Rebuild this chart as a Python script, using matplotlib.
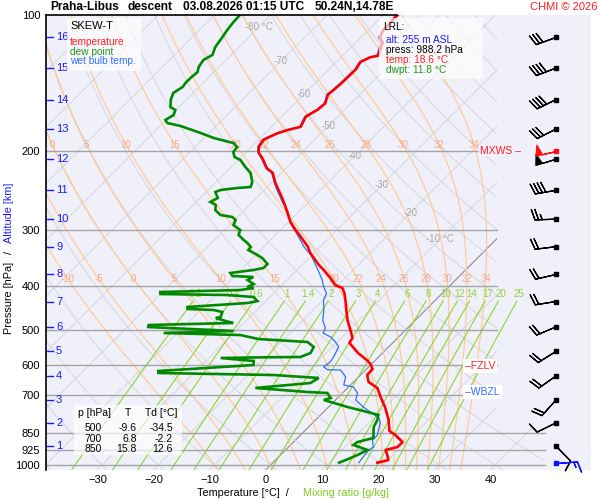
import numpy as np
import matplotlib
matplotlib.use('Agg')
import matplotlib.pyplot as plt
from matplotlib.patches import Rectangle, Polygon

plt.rcParams['font.family'] = ['Liberation Sans', 'DejaVu Sans']

# ======================
# SOUNDING DATA
# ======================
temp_p = [988.2, 975, 950, 926, 912, 889, 858, 840, 794, 747, 706, 674, 654, 631, 612, 596, 587, 564,
          535, 522, 501, 476, 452, 430, 415, 404, 398, 384, 368, 359, 338, 327, 311, 300, 288, 267, 255,
          236, 224, 219, 208, 202, 196, 189, 183, 180, 177, 168, 162, 157, 150, 147, 141, 132, 127, 124,
          123, 115, 112, 108, 104, 101, 100]
temp_t = [18.6, 20.1, 19.0, 17.8, 19.4, 19.4, 16.9, 15.1, 13.0, 10.3, 7.5, 5.3, 2.7, 1.2, 1.1, -0.2, -1.2,
          -4.3, -7.7, -8.0, -9.8, -12.1, -14.1, -16.0, -17.4, -18.7, -20.5, -22.6, -25.3, -27.0, -30.6,
          -32.2, -35.2, -37.4, -39.7, -43.2, -45.4, -49.3, -51.6, -53.4, -56.0, -57.7, -58.7, -59.1,
          -57.8, -56.6, -54.8, -55.7, -54.8, -54.6, -55.7, -55.5, -55.3, -55.2, -55.7, -54.8, -53.7,
          -55.2, -56.6, -57.3, -57.3, -57.5, -57.4]

wetb_p = [988.2, 926, 912, 880, 858, 803, 786, 743, 717, 692, 671, 664, 637, 615, 614, 605, 590, 575,
          546, 533, 519, 509, 496, 476, 452, 430, 415, 402, 388, 368, 341, 327, 308, 290, 273, 260, 245,
          237, 224, 219, 208, 202, 196, 189, 183, 180, 177, 168, 162, 157, 150, 147, 141, 132, 127, 124,
          123, 115, 112, 108, 104, 101, 100]
wetb_t = [15.3, 14.8, 15.1, 13.7, 13.7, 11.9, 10.9, 6.2, 3.6, 2.7, 0.9, -1.2, -2.3, -4.4, -6.8, -8.0,
          -7.7, -8.0, -8.9, -10.3, -12.1, -14.1, -14.6, -16.5, -18.1, -19.9, -20.6, -22.2, -23.7, -26.3,
          -30.2, -32.9, -36.1, -39.5, -42.0, -44.7, -47.7, -49.3, -51.8, -53.6, -56.2, -57.8, -58.9,
          -59.3, -58.0, -56.8, -55.0, -55.9, -55.0, -54.8, -55.9, -55.7, -55.5, -55.4, -55.9, -55.0,
          -53.9, -55.5, -56.8, -57.5, -57.5, -57.7, -57.6]

dwpt_p = [100, 103.5, 107.8, 111.7, 117.6, 122.5, 125.7, 130.3, 133.7, 137.8,
          141.4, 144.3, 148.8, 154.3, 159.9, 162.4, 166.6, 170.9, 173.6, 176.3,
          182.7, 187.4, 192.3, 196.3, 201.4, 206.6, 209.8, 217.4, 224.2, 234.8,
          240.9, 242.1, 244.6, 247.1, 254.8, 260.1, 264.1, 271.0, 278.0, 280.9,
          285.2, 292.6, 300.2, 308.0, 316.0, 320.9, 327.5, 332.6, 341.2, 346.5,
          357.3, 364.7, 368.4, 372.3, 374.2, 380.0, 381.9, 387.8, 395.8, 402.0,
          404.0, 408.2, 412.4, 416.7, 418.8, 423.1, 431.9, 436.3, 445.3, 449.9,
          452.2, 456.9, 468.7, 471.1, 478.4, 483.3, 488.3, 493.4, 503.5, 508.7,
          514.0, 524.6, 532.7, 546.5, 563.5, 575.2, 576.0, 578.2, 587.1, 599.3,
          618.0, 624.3, 630.8, 640.5, 657.1, 674.1, 688.1, 691.6, 709.6, 716.9,
          724.3, 743.1, 762.3, 774.1, 794.2, 823.2, 870.9, 888.9, 902.7, 926.1,
          950.1, 964.8, 988.2]
dwpt_t = [-85.5, -85.4, -85.1, -84.7, -84.2, -83.3, -84.0, -83.6, -82.9, -83.1,
          -83.1, -82.9, -83.5, -82.7, -81.5, -80.1, -79.5, -80.1, -79.2, -76.3,
          -71.5, -68.3, -63.9, -62.5, -62.3, -61.2, -59.6, -57.5, -55.5, -53.6,
          -53.0, -55.2, -57.8, -58.4, -56.9, -57.5, -56.0, -55.2, -53.4, -50.9,
          -49.8, -49.3, -47.2, -46.6, -44.8, -43.6, -42.3, -42.2, -39.7, -38.3,
          -36.3, -36.3, -37.7, -40.2, -41.3, -40.4, -36.5, -37.0, -35.2, -35.8,
          -34.5, -36.5, -50.4, -50.0, -37.9, -32.9, -31.5, -32.9, -42.9, -42.5,
          -37.7, -35.8, -35.2, -35.9, -33.6, -31.9, -46.6, -46.3, -30.4, -42.5,
          -28.5, -24.6, -15.3, -13.3, -12.8, -13.9, -19.8, -27.9, -21.5, -20.8,
          -36.7, -36.3, -15.5, -6.9, -7.5, -16.4, -6.4, -2.7, -1.2, -2.1,
          -0.5, 3.4, 7.8, 10.3, 11.0, 11.6, 13.5, 11.4, 11.2, 14.6,
          13.7, 13.0, 11.8]

# altitude marks (km) and the pressure they sit at
alt_km = [1, 2, 3, 4, 5, 6, 7, 8, 9, 10, 11, 12, 13, 14, 15, 16]
alt_p = [907, 806, 717, 634, 559, 493, 433, 377, 327, 284, 245, 209, 179, 154, 131, 112]

# winds at every km level (from 1 km up), direction in degrees, speed in knots
wind_dir = [136, 244, 222, 235, 238, 247, 261, 257, 263, 268, 260, 253, 243, 244, 249, 250]
wind_kt = [10, 10, 20, 20, 20, 20, 20, 20, 20, 25, 40, 50, 30, 40, 40, 30]
mxws_p, mxws_dir, mxws_kt = 200, 257, 50
sfc_p, sfc_dir, sfc_kt = 988.2, 86, 15

fzlv_p = 602
wbzl_p = 688

# table of standard levels
tab_p = ['500', '700', '850']
tab_t = ['-9.6', '6.8', '15.8']
tab_td = ['-34.5', '-2.2', '12.6']

# diagram furniture
p_lines = [200, 300, 400, 500, 600, 700, 850, 925, 1000]
p_ticks = [100, 200, 300, 400, 500, 600, 700, 850, 925, 1000]
t_ticks = [-30, -20, -10, 0, 10, 20, 30, 40]
iso_lab_t = [-80, -70, -60, -50, -40, -30, -20, -10]
iso_lab_p = [106.3, 126.6, 150, 176.6, 206, 239, 275, 315]
thw_vals = [-10, -5, 0, 5, 10, 15, 20, 22, 24, 26, 28, 30, 32, 34]
mix_vals = [0.2, 0.4, 0.6, 1, 1.4, 2, 3, 4, 6, 8, 10, 12, 14, 17, 20, 25]
mix_labels = ['0.2', '0.4', '0.6', '1', '1.4', '2', '3', '4', '6', '8', '10', '12', '14', '17', '20', '25']

# ======================
# GEOMETRY / THERMO HELPERS
# ======================
P_BOT = 1023.3
K_SKEW = 34.75
BG = '#f0f0fb'


def skew(t, p):
    """x position of temperature t at pressure p on the skewed axis"""
    return np.asarray(t, float) + K_SKEW * np.log(P_BOT / np.asarray(p, float))


def dtdp(T, p):
    Rd, cp, Lv, eps = 287.04, 1005.7, 2.501e6, 0.622
    tc = T - 273.15
    es = 6.112 * np.exp(17.67 * tc / (tc + 243.5))
    rs = eps * es / (p - es)
    return (Rd * T + Lv * rs) / (cp + Lv * Lv * rs * eps / (Rd * T * T)) / p


def integrate(T0, p0, p1, dp):
    n = int(round(abs(p1 - p0) / abs(dp)))
    T = np.array(T0, float)
    p = p0
    ps, Ts = [p], [T.copy()]
    for _ in range(n):
        k1 = dtdp(T, p)
        k2 = dtdp(T + 0.5 * dp * k1, p + 0.5 * dp)
        k3 = dtdp(T + 0.5 * dp * k2, p + 0.5 * dp)
        k4 = dtdp(T + dp * k3, p + dp)
        T = T + dp * (k1 + 2 * k2 + 2 * k3 + k4) / 6
        p = p + dp
        ps.append(p)
        Ts.append(T.copy())
    return np.array(ps), np.array(Ts)


def dewpoint_from_mix(w, p):
    e = w * p / (622.0 + w)
    a = np.log(e / 6.112)
    return 243.5 * a / (17.67 - a)


# ======================
# FIGURE
# ======================
fig = plt.figure(figsize=(6, 5), dpi=100)
fig.patch.set_facecolor('white')
L, R, T_, B = 45.7, 591.0, 15.3, 469.5
ax = fig.add_axes([L / 600, 1 - B / 500, (R - L) / 600, (B - T_) / 500])
ax.set_facecolor(BG)
ax.set_yscale('log')
ax.set_ylim(P_BOT, 100)
ax.set_xlim((L - 266) / 5.62, (R - 266) / 5.62)
for s in ['top', 'right', 'bottom']:
    ax.spines[s].set_visible(False)
ax.spines['left'].set_linewidth(1.2)

xa497 = (497 - L) / (R - L)
xa545 = (545 - L) / (R - L)
ya_ext = (B - 428) / (B - T_)
clip = Polygon([(0, 0), (0, 1), (xa497, 1), (xa497, ya_ext), (xa545, ya_ext), (xa545, 0)],
               closed=True, transform=ax.transAxes)

pp = np.geomspace(P_BOT, 100, 200)

# isotherms
for t in range(-130, 50, 10):
    col, lw = ('#808080', 0.7) if t == 0 else ('#d6d6de', 0.7)
    ln, = ax.plot(skew(np.full_like(pp, t), pp), pp, color=col, lw=lw, zorder=1)
    ln.set_clip_path(clip)

# dry adiabats
for th in range(-60, 200, 10):
    tt = (th + 273.15) * (pp / 1000.0) ** 0.2857 - 273.15
    ln, = ax.plot(skew(tt, pp), pp, color='#d6d6de', lw=0.7, zorder=1)
    ln.set_clip_path(clip)

# moist adiabats
T0 = np.array(thw_vals, float) + 273.15
p_up, T_up = integrate(T0, 1000.0, 100.0, -2.0)
p_dn, T_dn = integrate(T0, 1000.0, 1024.0, 2.0)
p_ma = np.concatenate([p_dn[::-1], p_up[1:]])
T_ma = np.concatenate([T_dn[::-1], T_up[1:]]) - 273.15
for i, thw in enumerate(thw_vals):
    ln, = ax.plot(skew(T_ma[:, i], p_ma), p_ma, color='#ffc98a', lw=0.8, zorder=1.1)
    ln.set_clip_path(clip)
for row_p, skip in [(194.0, 2), (386.0, 0)]:
    for i, thw in enumerate(thw_vals):
        if i < skip:
            continue
        tl = np.interp(np.log(row_p), np.log(p_ma[::-1]), T_ma[::-1, i])
        ax.text(skew(tl, row_p), row_p, str(thw), color='#f7a98a', fontsize=7,
                ha='center', va='center', zorder=1.2)

# mixing ratio lines
pm = np.geomspace(P_BOT, 432, 60)
for w, lab in zip(mix_vals, mix_labels):
    ax.plot(skew(dewpoint_from_mix(w, pm), pm), pm, color='#8fd42e', lw=0.8, zorder=1.15)
    xl = skew(dewpoint_from_mix(w, 424.0), 424.0)
    ax.text(xl, 416.0, lab, color='#8fd42e', fontsize=7, ha='center', va='center', zorder=1.2)

# isotherm labels
for t, p in zip(iso_lab_t, iso_lab_p):
    lab = f'{t} °C' if t in (-80, -10) else str(t)
    ax.text(skew(t, p), p, lab, color='#a8a8a8', fontsize=7, ha='center', va='center', zorder=1.2)

# pressure lines
ytr = ax.get_yaxis_transform()
for p in p_lines:
    x1 = xa545 if p >= 850 else xa497
    ax.plot([0, x1], [p, p], color='#a4a4a4', lw=1.0, transform=ytr, zorder=1.5)

# profiles
ax.plot(skew(wetb_t, wetb_p), wetb_p, color='#2f6fff', lw=0.9, zorder=3)
ax.plot(skew(dwpt_t, dwpt_p), dwpt_p, color='#008a00', lw=1.9, zorder=3.1,
        solid_joinstyle='miter')
ax.plot(skew(temp_t, temp_p), temp_p, color='#ff0000', lw=1.9, zorder=3.2)

# altitude marks
for km, p in zip(alt_km, alt_p):
    ax.plot([0.002, 0.013], [p, p], color='#1a1aff', lw=1.0, transform=ytr, zorder=4)
    ax.text(0.019, p, str(km), color='#1a1aff', fontsize=8, ha='left', va='center',
            transform=ytr, zorder=4)

# wind barbs
bx = (556 - L) / (R - L)
bsizes = dict(height=0.5, spacing=0.17, width=0.32)
blen = 5.5


def uv(d, s):
    d = np.radians(np.asarray(d, float))
    s = np.asarray(s, float)
    return -s * np.sin(d), -s * np.cos(d)


u, v = uv(wind_dir, wind_kt)
ax.barbs(np.full(len(alt_p), bx), alt_p, u, v, transform=ytr, length=blen, lw=0.9,
         color='k', sizes=bsizes, zorder=5, clip_on=False)
u, v = uv([mxws_dir], [mxws_kt])
ax.barbs([bx], [mxws_p], u, v, transform=ytr, length=blen, lw=0.9, color='#ff1010',
         sizes=bsizes, zorder=5, clip_on=False)
u, v = uv([sfc_dir], [sfc_kt])
ax.barbs([bx], [sfc_p], u, v, transform=ytr, length=blen, lw=0.9, color='#1010ff',
         sizes=bsizes, zorder=5, clip_on=False)
ax.plot(np.full(len(alt_p), bx), alt_p, 's', ms=2.3, color='k', transform=ytr, zorder=6)
ax.plot([bx], [mxws_p], 's', ms=2.3, color='#ff1010', transform=ytr, zorder=6)
ax.plot([bx], [sfc_p], 's', ms=2.3, color='#1010ff', transform=ytr, zorder=6)

# level labels
ax.text((521 - L) / (R - L), mxws_p, 'MXWS –', color='#ff2020', fontsize=7.5, ha='right',
        va='center', transform=ytr, zorder=6,
        bbox=dict(facecolor=BG, edgecolor='none', pad=0.5))
ax.text((465 - L) / (R - L), fzlv_p, '–FZLV', color='#ff2020', fontsize=7.5, ha='left',
        va='center', transform=ytr, zorder=6,
        bbox=dict(facecolor='white', edgecolor='none', pad=1.5))
ax.text((465 - L) / (R - L), wbzl_p, '–WBZL', color='#2f6fff', fontsize=7.5, ha='left',
        va='center', transform=ytr, zorder=6,
        bbox=dict(facecolor='white', edgecolor='none', pad=1.5))

# axes ticks
ax.set_yticks(p_ticks)
ax.set_yticklabels([str(p) for p in p_ticks])
ax.yaxis.set_minor_locator(matplotlib.ticker.NullLocator())
ax.set_xticks(t_ticks)
ax.tick_params(axis='both', length=0, labelsize=8)
ax.tick_params(axis='y', pad=4)
ax.tick_params(axis='x', pad=4)

# ======================
# FIGURE TEXT
# ======================


def fxy(px, py):
    return px / 600, 1 - py / 500


# top border line
fig.add_artist(plt.Line2D([L / 600, 397 / 600], [1 - 15 / 500, 1 - 15 / 500], color='k', lw=1.2))

fig.text(*fxy(50, 7.5), 'Praha-Libus', fontsize=8.6, fontweight='bold', ha='left', va='center')
fig.text(*fxy(128, 7.5), 'descent', fontsize=8.6, fontweight='bold', ha='left', va='center')
fig.text(*fxy(183, 7.5), '03.08.2026 01:15 UTC', fontsize=8.6, fontweight='bold', ha='left', va='center')
fig.text(*fxy(315, 7.5), '50.24N,14.78E', fontsize=8.6, fontweight='bold', ha='left', va='center')
fig.text(*fxy(597, 7.5), 'CHMI © 2026', fontsize=8, color='#ff2020', ha='right', va='center')

# boxes (semi transparent white)
for (x0, y0, x1, y1) in [(67, 18, 141, 71), (379, 18, 483, 79), (74, 405, 182, 455)]:
    fig.add_artist(Rectangle(fxy(x0, y1), (x1 - x0) / 600, (y1 - y0) / 500,
                             transform=fig.transFigure, facecolor='white', alpha=0.67,
                             edgecolor='none', zorder=2))

fig.text(*fxy(70, 26), 'SKEW-T', fontsize=8, ha='left', va='center', zorder=3)
fig.text(*fxy(70, 42.3), 'temperature', fontsize=7.3, color='#ff2020', ha='left', va='center', zorder=3)
fig.text(*fxy(70, 51.8), 'dew point', fontsize=7.3, color='#1e961e', ha='left', va='center', zorder=3)
fig.text(*fxy(70, 61.5), 'wet bulb temp.', fontsize=7.3, color='#2f6fff', ha='left', va='center', zorder=3)

fig.text(*fxy(383, 27.5), 'LRL:', fontsize=7.3, ha='left', va='center', zorder=3)
fig.text(*fxy(386, 40), 'alt: 255 m ASL', fontsize=7.3, color='#1a1aff', ha='left', va='center', zorder=3)
fig.text(*fxy(386, 50), 'press: 988.2 hPa', fontsize=7.3, ha='left', va='center', zorder=3)
fig.text(*fxy(386, 60), 'temp: 18.6 °C', fontsize=7.3, color='#ff2020', ha='left', va='center', zorder=3)
fig.text(*fxy(386, 70), 'dwpt: 11.8 °C', fontsize=7.3, color='#1e961e', ha='left', va='center', zorder=3)

fig.text(*fxy(78, 413), 'p [hPa]', fontsize=7.5, ha='left', va='center', zorder=3)
fig.text(*fxy(128, 413), 'T', fontsize=7.5, ha='center', va='center', zorder=3)
fig.text(*fxy(145, 413), 'Td [°C]', fontsize=7.5, ha='left', va='center', zorder=3)
for i, (a, b, c) in enumerate(zip(tab_p, tab_t, tab_td)):
    yy = [428, 438.5, 448.5][i]
    fig.text(*fxy(102, yy), a, fontsize=7.5, ha='right', va='center', zorder=3)
    fig.text(*fxy(137, yy), b, fontsize=7.5, ha='right', va='center', zorder=3)
    fig.text(*fxy(173, yy), c, fontsize=7.5, ha='right', va='center', zorder=3)

# axis titles
fig.text(*fxy(197, 493), 'Temperature [°C]  /', fontsize=7.8, ha='left', va='center')
fig.text(*fxy(303, 493), 'Mixing ratio [g/kg]', fontsize=7.8, color='#7ccc1c', ha='left', va='center')
fig.text(*fxy(9.3, 297.5), 'Pressure [hPa]', fontsize=7.8, rotation=90, ha='center', va='center')
fig.text(*fxy(9.3, 253), '/', fontsize=7.8, rotation=90, ha='center', va='center')
fig.text(*fxy(9.3, 212.5), 'Altitude [km]', fontsize=7.8, rotation=90, color='#1a1aff', ha='center', va='center')

fig.savefig('out.png', dpi=100)
